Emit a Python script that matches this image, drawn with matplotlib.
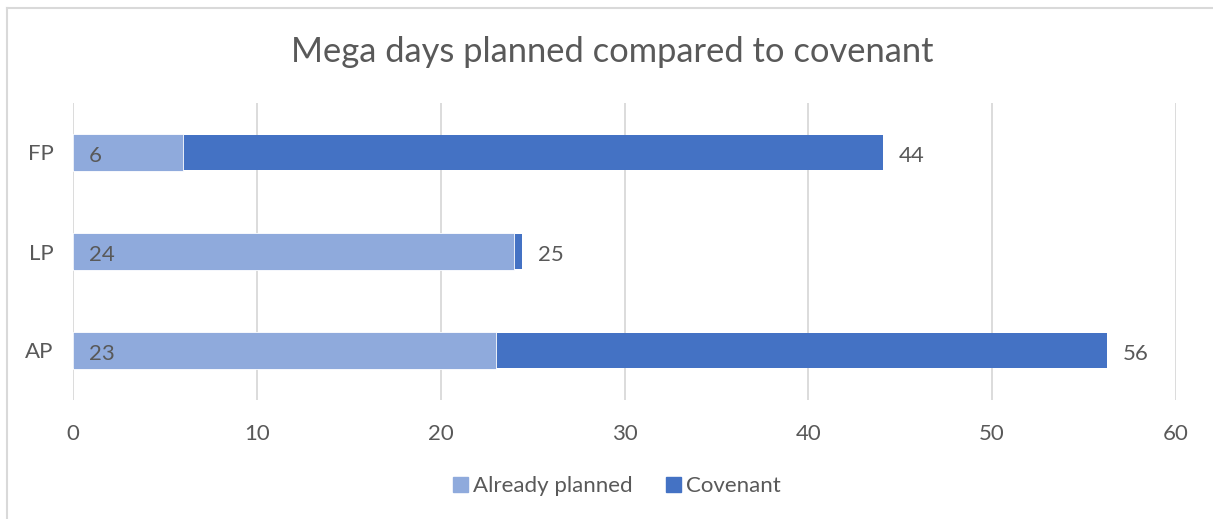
import numpy as np
import matplotlib.pyplot as plt
from matplotlib.patches import Patch
from matplotlib.lines import Line2D

# data (bottom to top, as drawn)
categories = ["AP", "LP", "FP"]
already_planned = [23, 24, 6]
covenant = [56.25, 24.45, 44.05]
covenant_labels = ["56", "25", "44"]
already_labels = ["23", "24", "6"]

light = "#8FAADC"
dark = "#4472C4"
txt = "#595959"
grid = "#D9D9D9"

plt.rcParams['font.family'] = ['Lato', 'DejaVu Sans']

fig = plt.figure(figsize=(12.13, 5.19), dpi=100)
ax = fig.add_axes([73 / 1213, 1 - 400 / 519, (1176 - 73) / 1213, (400 - 103) / 519])

y = np.arange(len(categories))
ax.barh(y, covenant, height=0.36, color=dark, zorder=2)
ax.barh(y, already_planned, height=0.38, color=light, edgecolor="white", linewidth=0.6, zorder=3)

for i in range(len(categories)):
    ax.text(0.85, y[i] - 0.04, already_labels[i], va="center", ha="left", fontsize=16, color=txt, zorder=4)
    ax.text(covenant[i] + 0.85, y[i] - 0.04, covenant_labels[i], va="center", ha="left", fontsize=16, color=txt)

ax.set_xlim(0, 60)
ax.set_ylim(-0.5, 2.5)
ax.set_xticks(range(0, 61, 10))
ax.set_yticks(y)
ax.set_yticklabels(categories)
ax.tick_params(axis="both", length=0, labelsize=16, labelcolor=txt)
ax.tick_params(axis="x", pad=17)
ax.tick_params(axis="y", pad=14)
ax.grid(axis="x", color=grid, linewidth=1.3, zorder=0)
ax.set_axisbelow(True)
for s in ax.spines.values():
    s.set_visible(False)

fig.text(612 / 1213, 1 - 52 / 519, "Mega days planned compared to covenant",
         ha="center", va="center", fontsize=24.8, color=txt)

handles = [Patch(color=light, label="Already planned"), Patch(color=dark, label="Covenant")]
fig.legend(handles=handles, loc="center", bbox_to_anchor=(617 / 1213, 1 - 486 / 519),
           ncol=2, frameon=False, fontsize=16, labelcolor=txt,
           handlelength=0.65, handleheight=0.65, handletextpad=0.25, columnspacing=1.5)

# chart area border (top and left visible)
fig.add_artist(Line2D([6.5 / 1213, 1], [1 - 7.5 / 519, 1 - 7.5 / 519], color=grid, lw=1.5))
fig.add_artist(Line2D([6.5 / 1213, 6.5 / 1213], [0, 1 - 7.5 / 519], color=grid, lw=1.5))

fig.savefig("out.png", dpi=100, facecolor="white")
